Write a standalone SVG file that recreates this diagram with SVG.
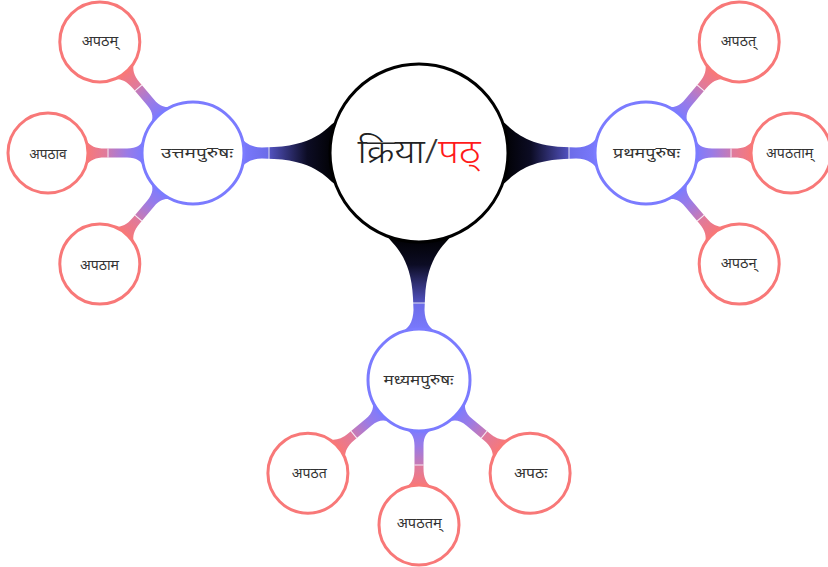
<svg xmlns="http://www.w3.org/2000/svg" xmlns:xlink="http://www.w3.org/1999/xlink" width="828" height="567" viewBox="0 0 828 567">
<style>
  .root { fill: #ffffff; stroke: #000000; stroke-width: 3; }
  .mid { fill: #ffffff; stroke: #7b7bff; stroke-width: 3; }
  .leaf { fill: #ffffff; stroke: #f87878; stroke-width: 3; }
  .lbl { font-family: "Noto Sans", sans-serif; font-size: 15px; fill: #333333; text-anchor: middle; }
  .big { font-family: "Noto Sans", sans-serif; font-size: 33px; font-weight: 300; text-anchor: middle; }
  .seam { stroke: #ffffff; stroke-width: 1; stroke-opacity: 0.85; }
</style>
<defs>
  <linearGradient id="gRoot" x1="0" y1="0" x2="1" y2="0">
    <stop offset="0" stop-color="#000000"/>
    <stop offset="0.3" stop-color="#0c0c24"/>
    <stop offset="0.69" stop-color="#5252c0"/>
    <stop offset="0.70" stop-color="#6c6ce8"/>
    <stop offset="1" stop-color="#7b7bff"/>
  </linearGradient>
  <linearGradient id="gLeaf" x1="0" y1="0" x2="1" y2="0">
    <stop offset="0" stop-color="#7b7bff"/>
    <stop offset="0.3" stop-color="#9a7be6"/>
    <stop offset="0.62" stop-color="#c87ab4"/>
    <stop offset="0.64" stop-color="#de7a9e"/>
    <stop offset="1" stop-color="#f87878"/>
  </linearGradient>
  <g id="cRoot">
    <path fill="url(#gRoot)" d="M 82.5,-32 C 90,-29 100,-8 145,-6 L 157,-5.5 Q 175,-6 180,-20 L 180,20 Q 175,6 157,5.5 L 145,6 C 100,8 90,29 82.5,32 Z"/>
    <line class="seam" x1="150" y1="-6" x2="150" y2="6"/>
  </g>
  <g id="cLeaf">
    <path fill="url(#gLeaf)" d="M 48.5,-15 C 52,-8 56,-4.5 66,-4.5 L 88,-4.5 C 98,-4.5 102,-7 106.8,-12 L 106.8,12 C 102,7 98,4.5 88,4.5 L 66,4.5 C 56,4.5 52,8 48.5,15 Z"/>
    <line class="seam" x1="85" y1="-4.5" x2="85" y2="4.5"/>
  </g>
</defs>
<rect width="828" height="567" fill="#ffffff"/>
<g id="connectors">
  <use xlink:href="#cRoot" transform="translate(419,153) rotate(180)"/>
  <use xlink:href="#cRoot" transform="translate(419,153)"/>
  <use xlink:href="#cRoot" transform="translate(419,153) rotate(90)"/>
  <use xlink:href="#cLeaf" transform="translate(193,153) rotate(-130)"/>
  <use xlink:href="#cLeaf" transform="translate(193,153) rotate(180)"/>
  <use xlink:href="#cLeaf" transform="translate(193,153) rotate(130)"/>
  <use xlink:href="#cLeaf" transform="translate(646,153) rotate(-50)"/>
  <use xlink:href="#cLeaf" transform="translate(646,153)"/>
  <use xlink:href="#cLeaf" transform="translate(646,153) rotate(50)"/>
  <use xlink:href="#cLeaf" transform="translate(419,380) rotate(140)"/>
  <use xlink:href="#cLeaf" transform="translate(419,380) rotate(90)"/>
  <use xlink:href="#cLeaf" transform="translate(419,380) rotate(40)"/>
</g>
<g id="root">
  <circle class="root" cx="419" cy="153" r="89"/>
  <text class="big" x="419" y="163" textLength="123" lengthAdjust="spacingAndGlyphs"><tspan fill="#222222">क्रिया</tspan><tspan fill="#333333">/</tspan><tspan fill="#ff1a1a">पठ्</tspan></text>
</g>
<g id="uttama">
  <circle class="mid" cx="193" cy="153" r="51"/>
  <text class="lbl" x="197" y="158" textLength="72" lengthAdjust="spacingAndGlyphs">उत्तमपुरुषः</text>
</g>
<g id="prathama">
  <circle class="mid" cx="646" cy="153" r="51"/>
  <text class="lbl" x="646.5" y="158" textLength="67" lengthAdjust="spacingAndGlyphs">प्रथमपुरुषः</text>
</g>
<g id="madhyama">
  <circle class="mid" cx="419" cy="380" r="51"/>
  <text class="lbl" x="418.5" y="385" textLength="70" lengthAdjust="spacingAndGlyphs">मध्यमपुरुषः</text>
</g>
<g id="u1">
  <circle class="leaf" cx="99.8" cy="41.9" r="40"/>
  <text class="lbl" x="100" y="46" textLength="36.5" lengthAdjust="spacingAndGlyphs">अपठम्</text>
</g>
<g id="u2">
  <circle class="leaf" cx="48" cy="153" r="40"/>
  <text class="lbl" x="48" y="158.5" textLength="37.3" lengthAdjust="spacingAndGlyphs">अपठाव</text>
</g>
<g id="u3">
  <circle class="leaf" cx="99.8" cy="264.1" r="40"/>
  <text class="lbl" x="99.5" y="269.5" textLength="39" lengthAdjust="spacingAndGlyphs">अपठाम</text>
</g>
<g id="p1">
  <circle class="leaf" cx="739.2" cy="41.9" r="40"/>
  <text class="lbl" x="738.4" y="46" textLength="35.3" lengthAdjust="spacingAndGlyphs">अपठत्</text>
</g>
<g id="p2">
  <circle class="leaf" cx="791" cy="153" r="40"/>
  <text class="lbl" x="789.7" y="157.5" textLength="47.3" lengthAdjust="spacingAndGlyphs">अपठताम्</text>
</g>
<g id="p3">
  <circle class="leaf" cx="739.2" cy="264.1" r="40"/>
  <text class="lbl" x="738.7" y="267.5" textLength="36" lengthAdjust="spacingAndGlyphs">अपठन्</text>
</g>
<g id="m1">
  <circle class="leaf" cx="307.9" cy="473.2" r="40"/>
  <text class="lbl" x="309.2" y="478" textLength="35" lengthAdjust="spacingAndGlyphs">अपठत</text>
</g>
<g id="m2">
  <circle class="leaf" cx="419" cy="525" r="40"/>
  <text class="lbl" x="419.2" y="528" textLength="45" lengthAdjust="spacingAndGlyphs">अपठतम्</text>
</g>
<g id="m3">
  <circle class="leaf" cx="530.1" cy="473.2" r="40"/>
  <text class="lbl" x="530.7" y="478" textLength="33.3" lengthAdjust="spacingAndGlyphs">अपठः</text>
</g>
</svg>
